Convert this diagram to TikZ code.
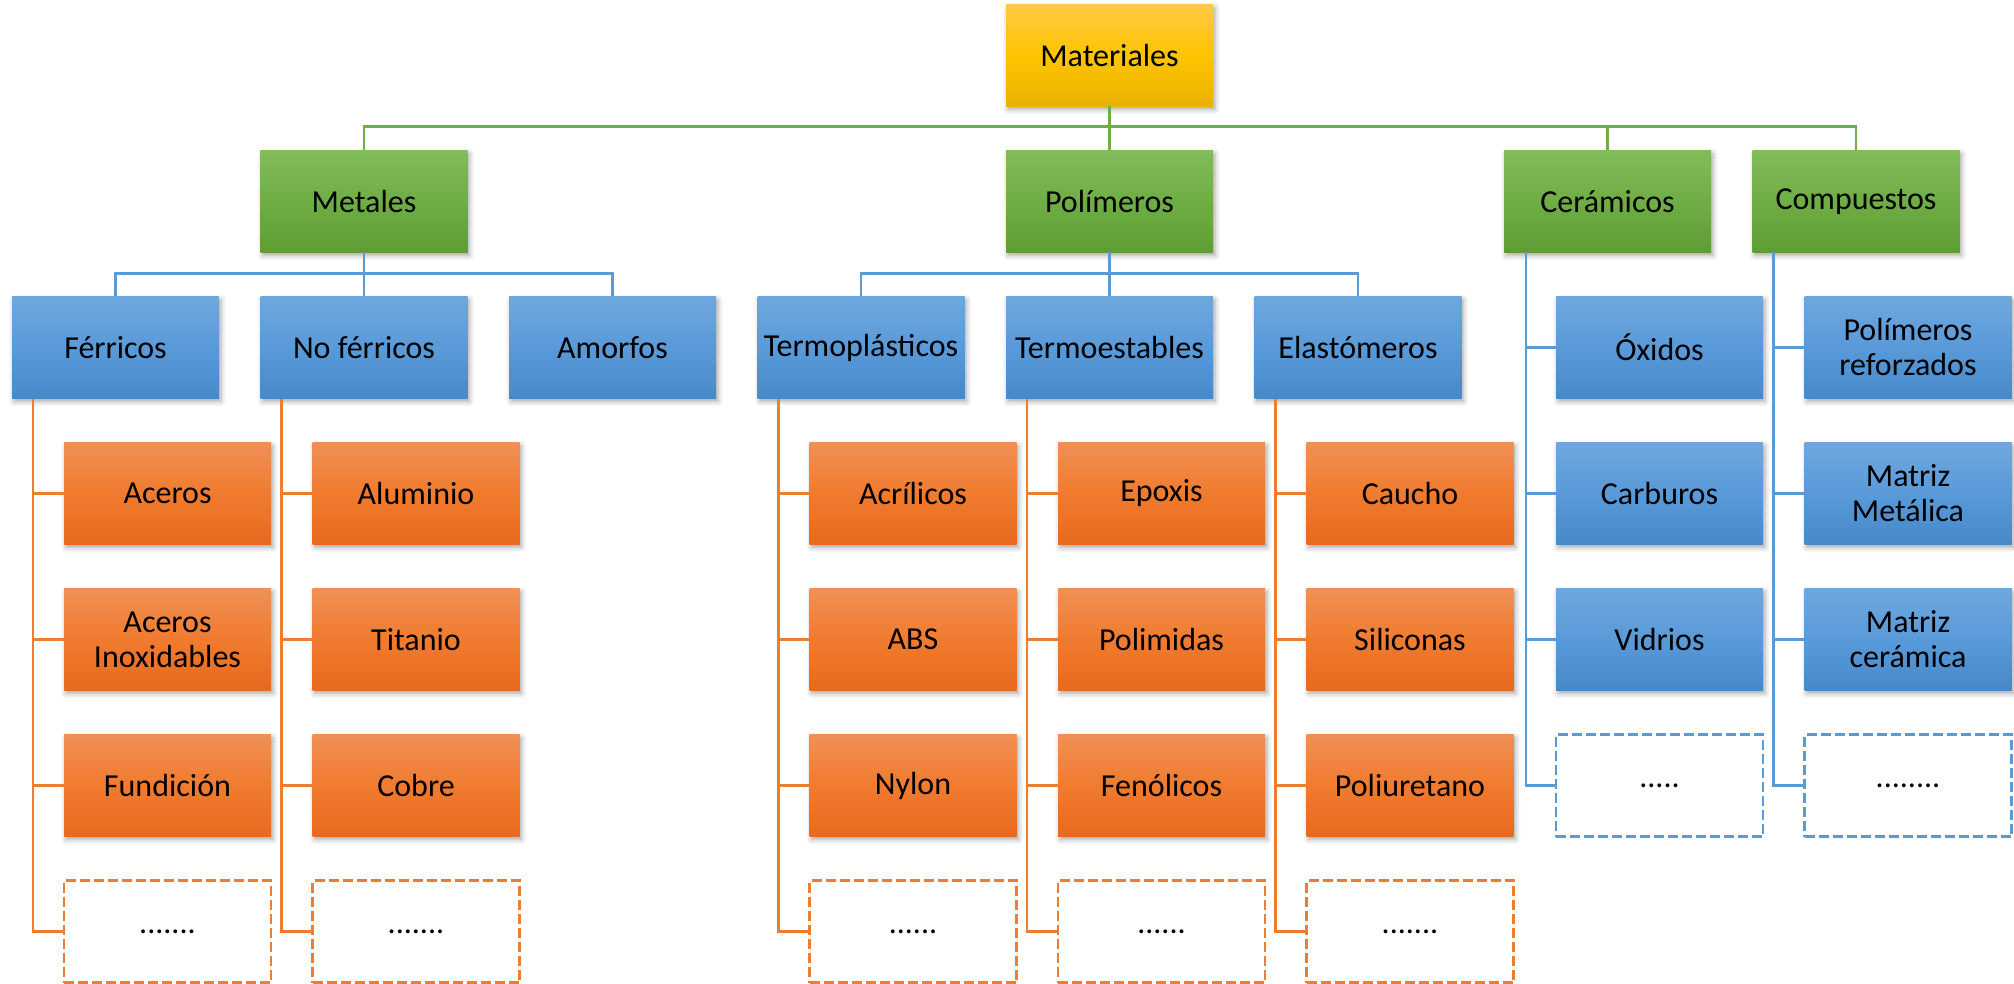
\documentclass[tikz,border=0pt]{standalone}
\usepackage{fontspec}
\setmainfont{Carlito}
\usetikzlibrary{positioning,shadows.blur}

\definecolor{goldtop}{HTML}{FFC946}
\definecolor{goldmid}{HTML}{FFC400}
\definecolor{goldbot}{HTML}{E8B100}
\definecolor{greentop}{HTML}{82BC5B}
\definecolor{greenmid}{HTML}{6FAD45}
\definecolor{greenbot}{HTML}{5E9D34}
\definecolor{bluetop}{HTML}{6FA7DD}
\definecolor{bluemid}{HTML}{599AD9}
\definecolor{bluebot}{HTML}{4689C9}
\definecolor{orangetop}{HTML}{F09056}
\definecolor{orangemid}{HTML}{F07B2E}
\definecolor{orangebot}{HTML}{E8691E}
\definecolor{greenline}{HTML}{70AD47}
\definecolor{blueline}{HTML}{5B9BD5}
\definecolor{orangeline}{HTML}{ED7D31}

\begin{document}
\begin{tikzpicture}[
    x=0.5pt, y=-0.5pt,
    node distance=22pt and 20.75pt,
    block/.style={rectangle, minimum width=103.5pt, minimum height=51pt, inner sep=0pt, outer sep=0pt, align=center, font=\fontsize{16}{17.5}\selectfont},
    shade/.style={block, blur shadow={shadow xshift=1pt, shadow yshift=-1.5pt, shadow blur radius=2.5pt, shadow opacity=35}},
    topbox/.style={shade, top color=goldtop, bottom color=goldbot, middle color=goldmid},
    catbox/.style={shade, top color=greentop, bottom color=greenbot, middle color=greenmid},
    subbox/.style={shade, top color=bluetop, bottom color=bluebot, middle color=bluemid},
    itembox/.style={shade, top color=orangetop, bottom color=orangebot, middle color=orangemid},
    dotbox/.style={block, draw=#1, fill=white, line width=1.2pt, dash pattern=on 5pt off 2pt},
    gline/.style={draw=greenline, line width=1.4pt},
    bline/.style={draw=blueline, line width=1.4pt},
    oline/.style={draw=orangeline, line width=1.4pt}
]
\useasboundingbox (0,0) rectangle (2014,984);

% Second level row
\node[subbox] (ferr) at (115.5,347.5) {Férricos};
\node[subbox, right=of ferr] (noferr) {No férricos};
\node[subbox, right=of noferr] (amorf) {Amorfos};
\node[subbox, right=of amorf] (termopl) {Termoplásticos};
\node[subbox, right=of termopl] (termoest) {Termoestables};
\node[subbox, right=of termoest] (elast) {Elastómeros};

% Families and root
\node[catbox, above=of noferr] (metal) {Metales};
\node[catbox, above=of termoest] (polim) {Polímeros};
\node[catbox, right=145.5pt of polim] (ceram) {Cerámicos};
\node[catbox, right=of ceram] (comp) {Compuestos};
\node[topbox, above=of polim] (mat) {Materiales};

% Metales
\node[itembox, below=of ferr, xshift=26pt] (acero) {Aceros};
\node[itembox, below=of acero] (inox) {Aceros\\Inoxidables};
\node[itembox, below=of inox] (fund) {Fundición};
\node[dotbox=orangeline, below=of fund] (ferrmas) {.......};
\node[itembox, below=of noferr, xshift=26pt] (alum) {Aluminio};
\node[itembox, below=of alum] (titan) {Titanio};
\node[itembox, below=of titan] (cobre) {Cobre};
\node[dotbox=orangeline, below=of cobre] (noferrmas) {.......};

% Polimeros
\node[itembox, below=of termopl, xshift=26pt] (acril) {Acrílicos};
\node[itembox, below=of acril] (abs) {ABS};
\node[itembox, below=of abs] (nylon) {Nylon};
\node[dotbox=orangeline, below=of nylon] (termoplmas) {......};
\node[itembox, below=of termoest, xshift=26pt] (epox) {Epoxis};
\node[itembox, below=of epox] (polimid) {Polimidas};
\node[itembox, below=of polimid] (fenol) {Fenólicos};
\node[dotbox=orangeline, below=of fenol] (termoestmas) {......};
\node[itembox, below=of elast, xshift=26pt] (caucho) {Caucho};
\node[itembox, below=of caucho] (silic) {Siliconas};
\node[itembox, below=of silic] (poliur) {Poliuretano};
\node[dotbox=orangeline, below=of poliur] (elastmas) {.......};

% Ceramicos y compuestos
\node[subbox, below=of ceram, xshift=26pt] (oxid) {Óxidos};
\node[subbox, below=of oxid] (carb) {Carburos};
\node[subbox, below=of carb] (vidr) {Vidrios};
\node[dotbox=blueline, below=of vidr] (crmas) {.....};
\node[subbox, below=of comp, xshift=26pt] (reforz) {Polímeros\\reforzados};
\node[subbox, below=of reforz] (metmat) {Matriz\\Metálica};
\node[subbox, below=of metmat] (cermat) {Matriz\\cerámica};
\node[dotbox=blueline, below=of cermat] (compmas) {........};

% Connectors
\foreach \n in {metal,polim,ceram,comp}
    \draw[gline] (mat.south) -- ++(0,20) -| (\n.north);
\foreach \n in {ferr,noferr,amorf}
    \draw[bline] (metal.south) -- ++(0,21) -| (\n.north);
\foreach \n in {termopl,termoest,elast}
    \draw[bline] (polim.south) -- ++(0,21) -| (\n.north);

\foreach \n in {acero,inox,fund,ferrmas}
    \draw[oline] ([xshift=10.5pt]ferr.south west) |- (\n.west);
\foreach \n in {alum,titan,cobre,noferrmas}
    \draw[oline] ([xshift=10.5pt]noferr.south west) |- (\n.west);
\foreach \n in {acril,abs,nylon,termoplmas}
    \draw[oline] ([xshift=10.5pt]termopl.south west) |- (\n.west);
\foreach \n in {epox,polimid,fenol,termoestmas}
    \draw[oline] ([xshift=10.5pt]termoest.south west) |- (\n.west);
\foreach \n in {caucho,silic,poliur,elastmas}
    \draw[oline] ([xshift=10.5pt]elast.south west) |- (\n.west);
\foreach \n in {oxid,carb,vidr,crmas}
    \draw[bline] ([xshift=11pt]ceram.south west) |- (\n.west);
\foreach \n in {reforz,metmat,cermat,compmas}
    \draw[bline] ([xshift=10.5pt]comp.south west) |- (\n.west);

\end{tikzpicture}
\end{document}
